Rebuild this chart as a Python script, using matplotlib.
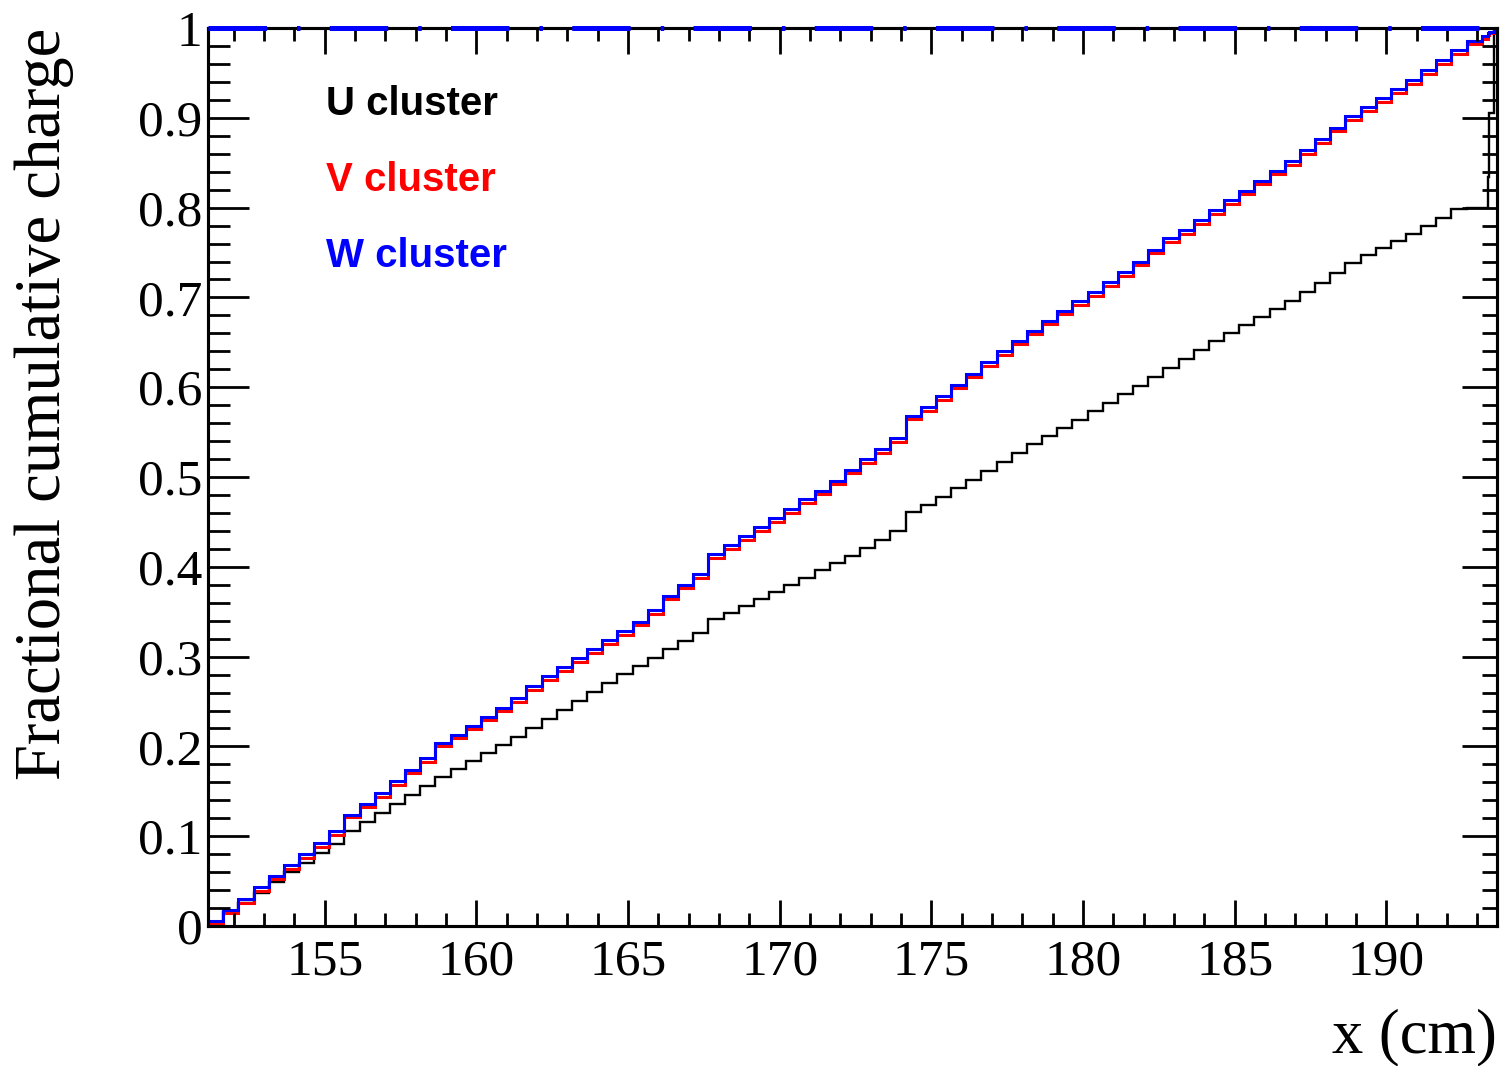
import numpy as np
import matplotlib
matplotlib.use("Agg")
import matplotlib.pyplot as plt
from matplotlib.ticker import MultipleLocator


# binning along x (cm): regular 0.5 cm bins, finer bins at the far end
x_start = 151.15
bin_width = 0.5
n_regular = 84
tail_edges = [193.35, 193.40, 193.55, 193.65]

# fractional cumulative charge per bin
u_charge = [
    0.005, 0.016, 0.026, 0.037, 0.049, 0.060, 0.070, 0.081, 0.091, 0.106,
    0.116, 0.126, 0.136, 0.146, 0.156, 0.166, 0.175, 0.184, 0.193, 0.202,
    0.211, 0.220, 0.231, 0.241, 0.251, 0.261, 0.271, 0.281, 0.290, 0.299,
    0.308, 0.317, 0.326, 0.342, 0.349, 0.356, 0.364, 0.372, 0.380, 0.388,
    0.396, 0.404, 0.412, 0.421, 0.430, 0.440, 0.461, 0.469, 0.478, 0.488,
    0.497, 0.507, 0.517, 0.527, 0.537, 0.546, 0.555, 0.564, 0.573, 0.582,
    0.592, 0.601, 0.611, 0.621, 0.631, 0.641, 0.651, 0.660, 0.669, 0.678,
    0.687, 0.696, 0.706, 0.716, 0.727, 0.738, 0.747, 0.755, 0.763, 0.771,
    0.780, 0.789, 0.798, 0.800,
    0.800, 0.834, 0.905, 1.000,
]

v_charge = [
    0.003, 0.014, 0.026, 0.039, 0.052, 0.064, 0.076, 0.088, 0.101, 0.121,
    0.132, 0.144, 0.157, 0.170, 0.183, 0.200, 0.209, 0.219, 0.229, 0.239,
    0.250, 0.263, 0.274, 0.284, 0.294, 0.304, 0.314, 0.324, 0.335, 0.347,
    0.364, 0.376, 0.388, 0.410, 0.420, 0.430, 0.440, 0.450, 0.460, 0.471,
    0.481, 0.492, 0.504, 0.516, 0.527, 0.539, 0.565, 0.574, 0.586, 0.599,
    0.611, 0.624, 0.636, 0.648, 0.659, 0.670, 0.681, 0.692, 0.702, 0.713,
    0.724, 0.736, 0.749, 0.762, 0.771, 0.782, 0.793, 0.804, 0.815, 0.826,
    0.837, 0.848, 0.860, 0.872, 0.885, 0.898, 0.908, 0.918, 0.928, 0.938,
    0.949, 0.960, 0.971, 0.982,
    0.988, 0.992, 0.995, 1.000,
]

w_charge = [
    0.006, 0.018, 0.030, 0.043, 0.056, 0.068, 0.080, 0.092, 0.106, 0.124,
    0.136, 0.148, 0.161, 0.174, 0.187, 0.204, 0.213, 0.223, 0.233, 0.243,
    0.254, 0.267, 0.278, 0.288, 0.298, 0.308, 0.318, 0.328, 0.339, 0.352,
    0.368, 0.380, 0.392, 0.414, 0.424, 0.434, 0.444, 0.454, 0.464, 0.475,
    0.485, 0.496, 0.508, 0.520, 0.531, 0.543, 0.568, 0.578, 0.590, 0.603,
    0.615, 0.628, 0.640, 0.652, 0.663, 0.674, 0.685, 0.696, 0.706, 0.717,
    0.728, 0.740, 0.753, 0.766, 0.775, 0.786, 0.797, 0.808, 0.819, 0.830,
    0.841, 0.852, 0.864, 0.876, 0.889, 0.902, 0.912, 0.922, 0.932, 0.942,
    0.953, 0.964, 0.975, 0.986,
    0.991, 0.994, 0.996, 1.000,
]

cluster_names = ["U cluster", "V cluster", "W cluster"]
cluster_colors = ["black", "#ff0000", "#0000ff"]

x_range = (151.15, 193.65)
y_range = (0.0, 1.0)

output_file = "out.png"


def main():

    plt.rcParams["lines.scale_dashes"] = False

    edges = np.r_[
        x_start + bin_width * np.arange(n_regular + 1),
        tail_edges,
    ]

    fig = plt.figure(
        figsize=(15.03, 10.66),
        dpi=100,
    )

    ax = fig.add_axes([0.1384, 0.1313, 0.8576, 0.8424])

    ax.stairs(
        u_charge,
        edges,
        baseline=None,
        color=cluster_colors[0],
        linewidth=1.7,
    )

    ax.stairs(
        v_charge,
        edges,
        baseline=None,
        color=cluster_colors[1],
        linewidth=2.2,
    )

    ax.stairs(
        w_charge,
        edges,
        baseline=None,
        color=cluster_colors[2],
        linewidth=2.2,
    )

    ax.set_xlim(x_range)
    ax.set_ylim(y_range)

    serif = "Liberation Serif"

    ax.xaxis.set_major_locator(MultipleLocator(5))
    ax.xaxis.set_minor_locator(MultipleLocator(1))
    ax.yaxis.set_major_locator(MultipleLocator(0.1))
    ax.yaxis.set_minor_locator(MultipleLocator(0.02))

    ax.tick_params(
        axis="x",
        which="both",
        direction="in",
        top=True,
        width=2.0,
        labelsize=37,
        pad=9,
    )
    ax.tick_params(axis="x", which="major", length=18.5)
    ax.tick_params(axis="x", which="minor", length=9.5)

    ax.tick_params(
        axis="y",
        which="both",
        direction="in",
        right=False,
        width=2.0,
        labelsize=37,
        pad=4,
    )
    ax.tick_params(axis="y", which="major", length=29.5)
    ax.tick_params(axis="y", which="minor", length=16)

    ax.set_yticks(np.arange(0, 1.01, 0.1))
    ax.set_yticklabels(
        ["0", "0.1", "0.2", "0.3", "0.4", "0.5",
         "0.6", "0.7", "0.8", "0.9", "1"]
    )

    for label in ax.get_xticklabels() + ax.get_yticklabels():
        label.set_fontfamily(serif)

    # right-hand ticks are shorter than the left-hand ones
    ax_right = ax.twinx()
    ax_right.set_ylim(y_range)
    ax_right.yaxis.set_major_locator(MultipleLocator(0.1))
    ax_right.yaxis.set_minor_locator(MultipleLocator(0.02))
    ax_right.tick_params(
        axis="y",
        which="both",
        direction="in",
        width=2.0,
        labelright=False,
    )
    ax_right.tick_params(axis="y", which="major", length=25)
    ax_right.tick_params(axis="y", which="minor", length=11)

    for spine in list(ax.spines.values()) + list(ax_right.spines.values()):
        spine.set_linewidth(2.2)

    # dash-dot line along the top edge, drawn over the frame
    ax_right.axhline(
        1.0,
        color=cluster_colors[2],
        linewidth=3.6,
        dashes=(42.1, 21.6, 2.5, 21.1),
        dash_capstyle="butt",
        clip_on=False,
        zorder=10,
    )

    ax.set_xlabel(
        "x (cm)",
        fontsize=45,
        fontfamily=serif,
        loc="right",
    )
    ax.xaxis.set_label_coords(1.0, -0.092)

    ax.set_ylabel(
        "Fractional cumulative charge",
        fontsize=46.5,
        fontfamily=serif,
        loc="top",
    )
    ax.yaxis.set_label_coords(-0.104, 1.0)

    text_y = [0.903, 0.818, 0.734]

    for name, color, ypos in zip(cluster_names, cluster_colors, text_y):

        ax.text(
            0.0915,
            ypos,
            name,
            transform=ax.transAxes,
            fontsize=29,
            fontweight="bold",
            fontfamily="Liberation Sans",
            color=color,
            ha="left",
            va="baseline",
        )

    fig.savefig(
        output_file,
        dpi=100,
    )


if __name__ == "__main__":

    main()
